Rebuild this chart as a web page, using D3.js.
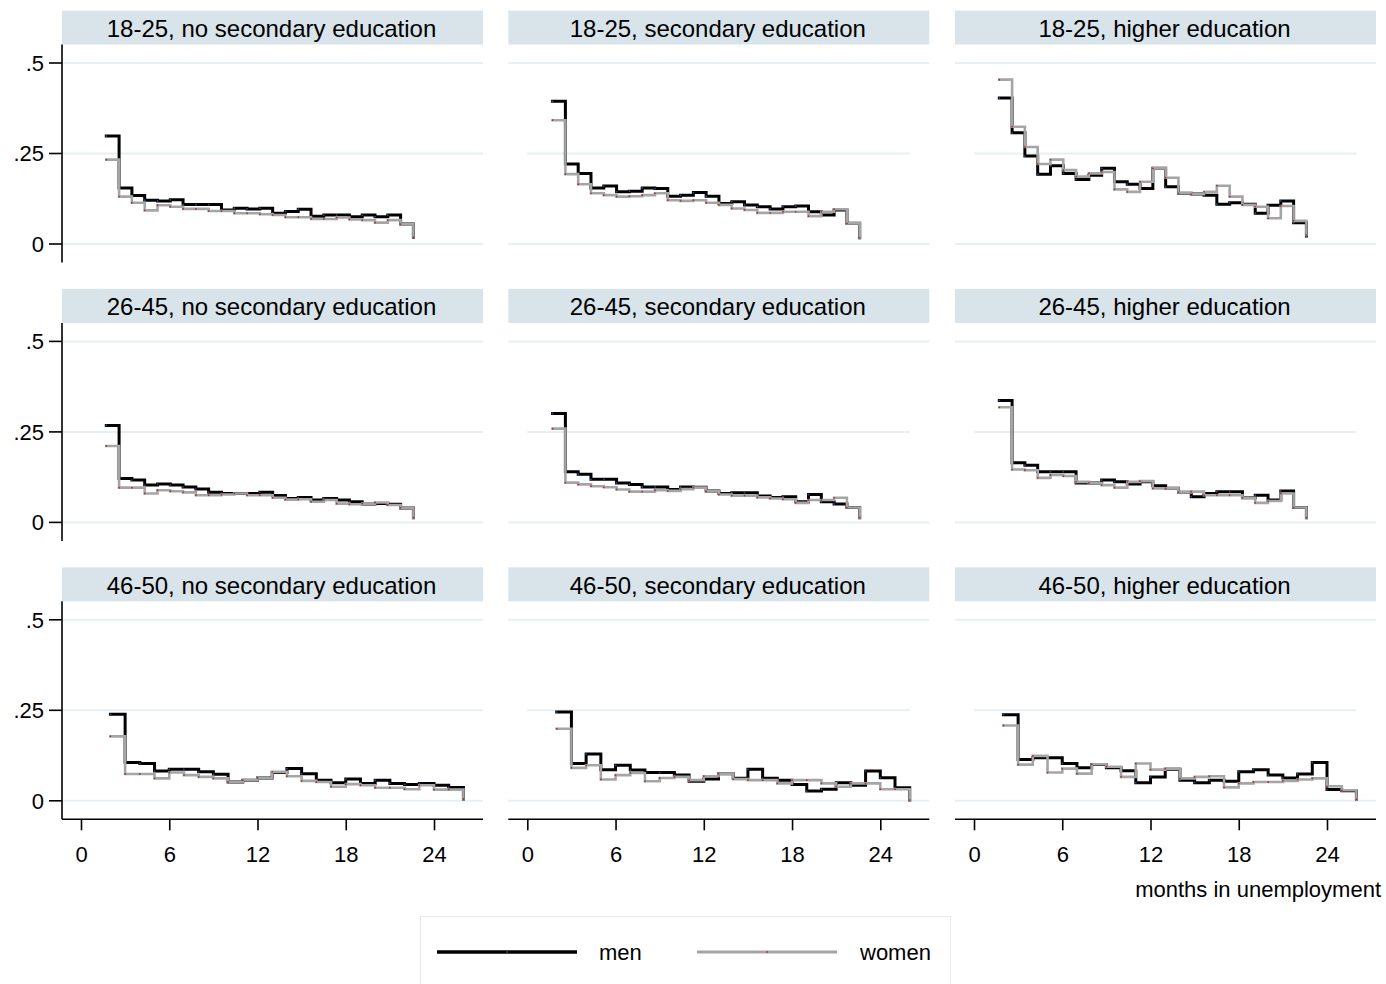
<!DOCTYPE html>
<html><head><meta charset="utf-8">
<script src="https://cdn.jsdelivr.net/npm/d3@7"></script>
<style>
body{margin:0;background:#fff}
svg text{font-family:"Liberation Sans",Arial,Helvetica,sans-serif;fill:#000}
</style>
</head><body>
<svg id="chart" width="1386" height="984"></svg>
<script>
// ---------------- data ----------------
const ageGroups = ["18-25", "26-45", "46-50"];
const eduGroups = ["no secondary education", "secondary education", "higher education"];
const xTicks = [0, 6, 12, 18, 24];
const yTicks = [0, 0.25, 0.5];
const yTickLabels = ["0", ".25", ".5"];
const seriesNames = ["men", "women"];
const xTitle = "months in unemployment";

// month positions of the step points (rows 18-25 and 26-45 / row 46-50)
const monthsA = [1.72, 2.59, 3.46, 4.33, 5.20, 6.07, 6.94, 7.81, 8.68, 9.55, 10.42, 11.29, 12.16,
                 13.03, 13.90, 14.77, 15.64, 16.51, 17.38, 18.25, 19.12, 19.99, 20.86, 21.73, 22.60];
const monthsB = [2, 3, 4, 5, 6, 7, 8, 9, 10, 11, 12, 13, 14,
                 15, 16, 17, 18, 19, 20, 21, 22, 23, 24, 25, 26];

// hazard rates, men / women, per panel
const men_18_25_none = [0.298,0.155,0.134,0.121,0.119,0.122,0.109,0.109,0.109,0.094,0.099,0.097,0.099,0.085,0.090,0.096,0.077,0.080,0.080,0.075,0.080,0.075,0.080,0.055,0.018];
const women_18_25_none = [0.233,0.131,0.114,0.093,0.107,0.103,0.097,0.097,0.091,0.091,0.085,0.085,0.082,0.080,0.074,0.074,0.069,0.069,0.073,0.068,0.066,0.059,0.066,0.055,0.018];
const men_18_25_sec = [0.394,0.221,0.195,0.155,0.160,0.144,0.146,0.155,0.153,0.132,0.135,0.142,0.132,0.112,0.117,0.108,0.103,0.097,0.103,0.105,0.089,0.080,0.094,0.057,0.017];
const women_18_25_sec = [0.342,0.193,0.165,0.140,0.135,0.131,0.132,0.135,0.140,0.121,0.119,0.121,0.114,0.108,0.098,0.094,0.086,0.086,0.089,0.089,0.077,0.089,0.096,0.057,0.017];
const men_18_25_high = [0.403,0.307,0.243,0.193,0.216,0.195,0.178,0.190,0.209,0.172,0.165,0.153,0.209,0.158,0.140,0.138,0.135,0.110,0.114,0.110,0.085,0.107,0.119,0.059,0.022];
const women_18_25_high = [0.454,0.324,0.268,0.221,0.233,0.204,0.186,0.195,0.199,0.151,0.144,0.172,0.209,0.183,0.140,0.138,0.144,0.161,0.131,0.108,0.103,0.071,0.105,0.064,0.025];
const men_26_45_none = [0.268,0.121,0.117,0.103,0.106,0.103,0.098,0.092,0.083,0.080,0.080,0.080,0.083,0.074,0.066,0.069,0.062,0.066,0.062,0.057,0.051,0.052,0.050,0.040,0.013];
const women_26_45_none = [0.211,0.096,0.096,0.080,0.089,0.086,0.083,0.075,0.075,0.077,0.080,0.075,0.075,0.068,0.063,0.064,0.057,0.062,0.052,0.050,0.052,0.055,0.048,0.040,0.013];
const men_26_45_sec = [0.301,0.140,0.133,0.119,0.119,0.109,0.105,0.098,0.098,0.091,0.098,0.097,0.087,0.080,0.082,0.082,0.073,0.069,0.071,0.057,0.077,0.057,0.051,0.041,0.013];
const women_26_45_sec = [0.259,0.110,0.105,0.100,0.097,0.091,0.085,0.085,0.089,0.087,0.092,0.096,0.086,0.077,0.074,0.074,0.069,0.066,0.064,0.054,0.062,0.062,0.068,0.041,0.013];
const men_26_45_high = [0.337,0.165,0.158,0.140,0.140,0.140,0.109,0.109,0.117,0.112,0.106,0.112,0.101,0.094,0.083,0.071,0.080,0.085,0.085,0.068,0.075,0.062,0.087,0.041,0.013];
const women_26_45_high = [0.318,0.146,0.144,0.123,0.131,0.128,0.112,0.109,0.103,0.096,0.112,0.114,0.094,0.094,0.083,0.085,0.075,0.075,0.075,0.068,0.054,0.059,0.080,0.041,0.013];
const men_46_50_none = [0.239,0.106,0.103,0.082,0.087,0.087,0.080,0.073,0.052,0.057,0.063,0.078,0.089,0.075,0.057,0.050,0.060,0.048,0.057,0.048,0.045,0.048,0.043,0.037,0.005];
const women_46_50_none = [0.178,0.074,0.074,0.062,0.078,0.071,0.066,0.062,0.052,0.057,0.063,0.080,0.068,0.055,0.052,0.039,0.046,0.043,0.036,0.036,0.032,0.043,0.031,0.031,0.005];
const men_46_50_sec = [0.245,0.103,0.129,0.086,0.098,0.085,0.078,0.078,0.071,0.054,0.060,0.075,0.062,0.087,0.062,0.057,0.045,0.027,0.032,0.050,0.043,0.082,0.064,0.036,0.002];
const women_46_50_sec = [0.199,0.091,0.098,0.059,0.071,0.077,0.054,0.063,0.066,0.057,0.068,0.075,0.060,0.057,0.057,0.048,0.057,0.057,0.048,0.039,0.048,0.048,0.032,0.032,0.002];
const men_46_50_high = [0.238,0.114,0.119,0.119,0.103,0.091,0.100,0.091,0.083,0.050,0.066,0.087,0.057,0.050,0.057,0.054,0.080,0.086,0.071,0.063,0.074,0.106,0.031,0.028,0.004];
const women_46_50_high = [0.208,0.100,0.124,0.078,0.089,0.075,0.101,0.094,0.066,0.103,0.086,0.089,0.062,0.066,0.068,0.037,0.048,0.052,0.052,0.055,0.059,0.062,0.040,0.029,0.004];

const panelMonths = [monthsA, monthsA, monthsB];
const panelMen = [
  [men_18_25_none, men_18_25_sec, men_18_25_high],
  [men_26_45_none, men_26_45_sec, men_26_45_high],
  [men_46_50_none, men_46_50_sec, men_46_50_high]];
const panelWomen = [
  [women_18_25_none, women_18_25_sec, women_18_25_high],
  [women_26_45_none, women_26_45_sec, women_26_45_high],
  [women_46_50_none, women_46_50_sec, women_46_50_high]];

// ---------------- layout ----------------
const svg = d3.select("#chart");
const colLeft = [62, 508.3, 955];
const panelW = 421;
const rowTop = [10.5, 288.9, 567.3];
const stripH = 34;
const plotBottomOff = 251.5;   // from row top to bottom of plot region
const zeroOff = 233.5;         // from row top to y=0
const fontSize = 22;

const x = d3.scaleLinear().domain([0, 24]).range([19, 372]);
const styleMen = {stroke: "#000000", width: 3};
const styleWomen = {stroke: "#a5a5a5", width: 2.6};

for (let r = 0; r < 3; r++) {
  const y = d3.scaleLinear().domain([0, 0.5]).range([rowTop[r] + zeroOff, rowTop[r] + zeroOff - 181]);
  for (let c = 0; c < 3; c++) {
    const g = svg.append("g").attr("transform", `translate(${colLeft[c]},0)`);
    // strip
    g.append("rect").attr("x", 0).attr("y", rowTop[r]).attr("width", panelW).attr("height", stripH)
      .attr("fill", "#d8e4ea");
    g.append("text").attr("x", panelW / 2 - 1).attr("y", rowTop[r] + 26.5).attr("text-anchor", "middle")
      .attr("font-size", 24).text(`${ageGroups[r]}, ${eduGroups[c]}`);
    // gridlines
    yTicks.forEach(t => {
      const short = (c > 0 && t === 0.25);
      g.append("line")
        .attr("x1", short ? x(0) : 0).attr("x2", short ? x(26) : panelW)
        .attr("y1", y(t)).attr("y2", y(t))
        .attr("stroke", "#e8eff2").attr("stroke-width", 2);
    });
    // y axis (first column)
    if (c === 0) {
      const ax = g.append("g");
      ax.append("line").attr("x1", 0).attr("x2", 0)
        .attr("y1", rowTop[r] + stripH).attr("y2", rowTop[r] + plotBottomOff + 0.5)
        .attr("stroke", "#000").attr("stroke-width", 1.6);
      yTicks.forEach((t, i) => {
        ax.append("line").attr("x1", -13).attr("x2", 0).attr("y1", y(t)).attr("y2", y(t))
          .attr("stroke", "#000").attr("stroke-width", 1.6);
        ax.append("text").attr("x", -18).attr("y", y(t)).attr("dy", "0.35em")
          .attr("text-anchor", "end").attr("font-size", fontSize).text(yTickLabels[i]);
      });
    }
    // x axis (last row)
    if (r === 2) {
      const axY = rowTop[r] + plotBottomOff + 0.5;
      const xa = g.append("g").attr("transform", `translate(0,${axY})`)
        .call(d3.axisBottom(x).tickValues(xTicks).tickSize(11).tickPadding(16).tickSizeOuter(0));
      xa.select(".domain").attr("d", `M0,0H${panelW}`).attr("stroke", "#000").attr("stroke-width", 1.6);
      xa.selectAll(".tick line").attr("stroke", "#000").attr("stroke-width", 1.6);
      xa.selectAll(".tick text").attr("font-size", fontSize)
        .attr("font-family", '"Liberation Sans",Arial,sans-serif').attr("fill", "#000");
    }
    // series
    const months = panelMonths[r];
    const line = d3.line().x(d => x(d[0])).y(d => y(d[1])).curve(d3.curveStepAfter);
    [[panelMen[r][c], styleMen, "#2b4a8a"], [panelWomen[r][c], styleWomen, "#a03535"]].forEach(([vals, st, mk]) => {
      const pts = vals.map((v, i) => [months[i], v]);
      g.append("path").datum(pts).attr("d", line).attr("fill", "none")
        .attr("stroke", st.stroke).attr("stroke-width", st.width)
        .attr("stroke-linejoin", "miter").attr("stroke-linecap", "square");
      g.selectAll(null).data(pts).enter().append("circle")
        .attr("cx", d => x(d[0])).attr("cy", d => y(d[1])).attr("r", 0.9).attr("fill", mk);
    });
  }
}

// x title
svg.append("text").attr("x", 1381).attr("y", 897).attr("text-anchor", "end")
  .attr("font-size", fontSize).text(xTitle);

// legend
const leg = svg.append("g");
leg.append("rect").attr("x", 420.5).attr("y", 916.5).attr("width", 530).attr("height", 90)
  .attr("fill", "#fff").attr("stroke", "#e3ebee").attr("stroke-width", 1);
const legItems = [
  {name: seriesNames[0], st: styleMen, mk: "#2b4a8a", x0: 437, tx: 599},
  {name: seriesNames[1], st: styleWomen, mk: "#a03535", x0: 697, tx: 860}];
legItems.forEach(it => {
  leg.append("line").attr("x1", it.x0).attr("x2", it.x0 + 140).attr("y1", 952).attr("y2", 952)
    .attr("stroke", it.st.stroke).attr("stroke-width", it.st.width + 0.6);
  leg.append("circle").attr("cx", it.x0 + 70).attr("cy", 952).attr("r", 0.9).attr("fill", it.mk);
  leg.append("text").attr("x", it.tx).attr("y", 960).attr("font-size", fontSize).text(it.name);
});
</script>
</body></html>
